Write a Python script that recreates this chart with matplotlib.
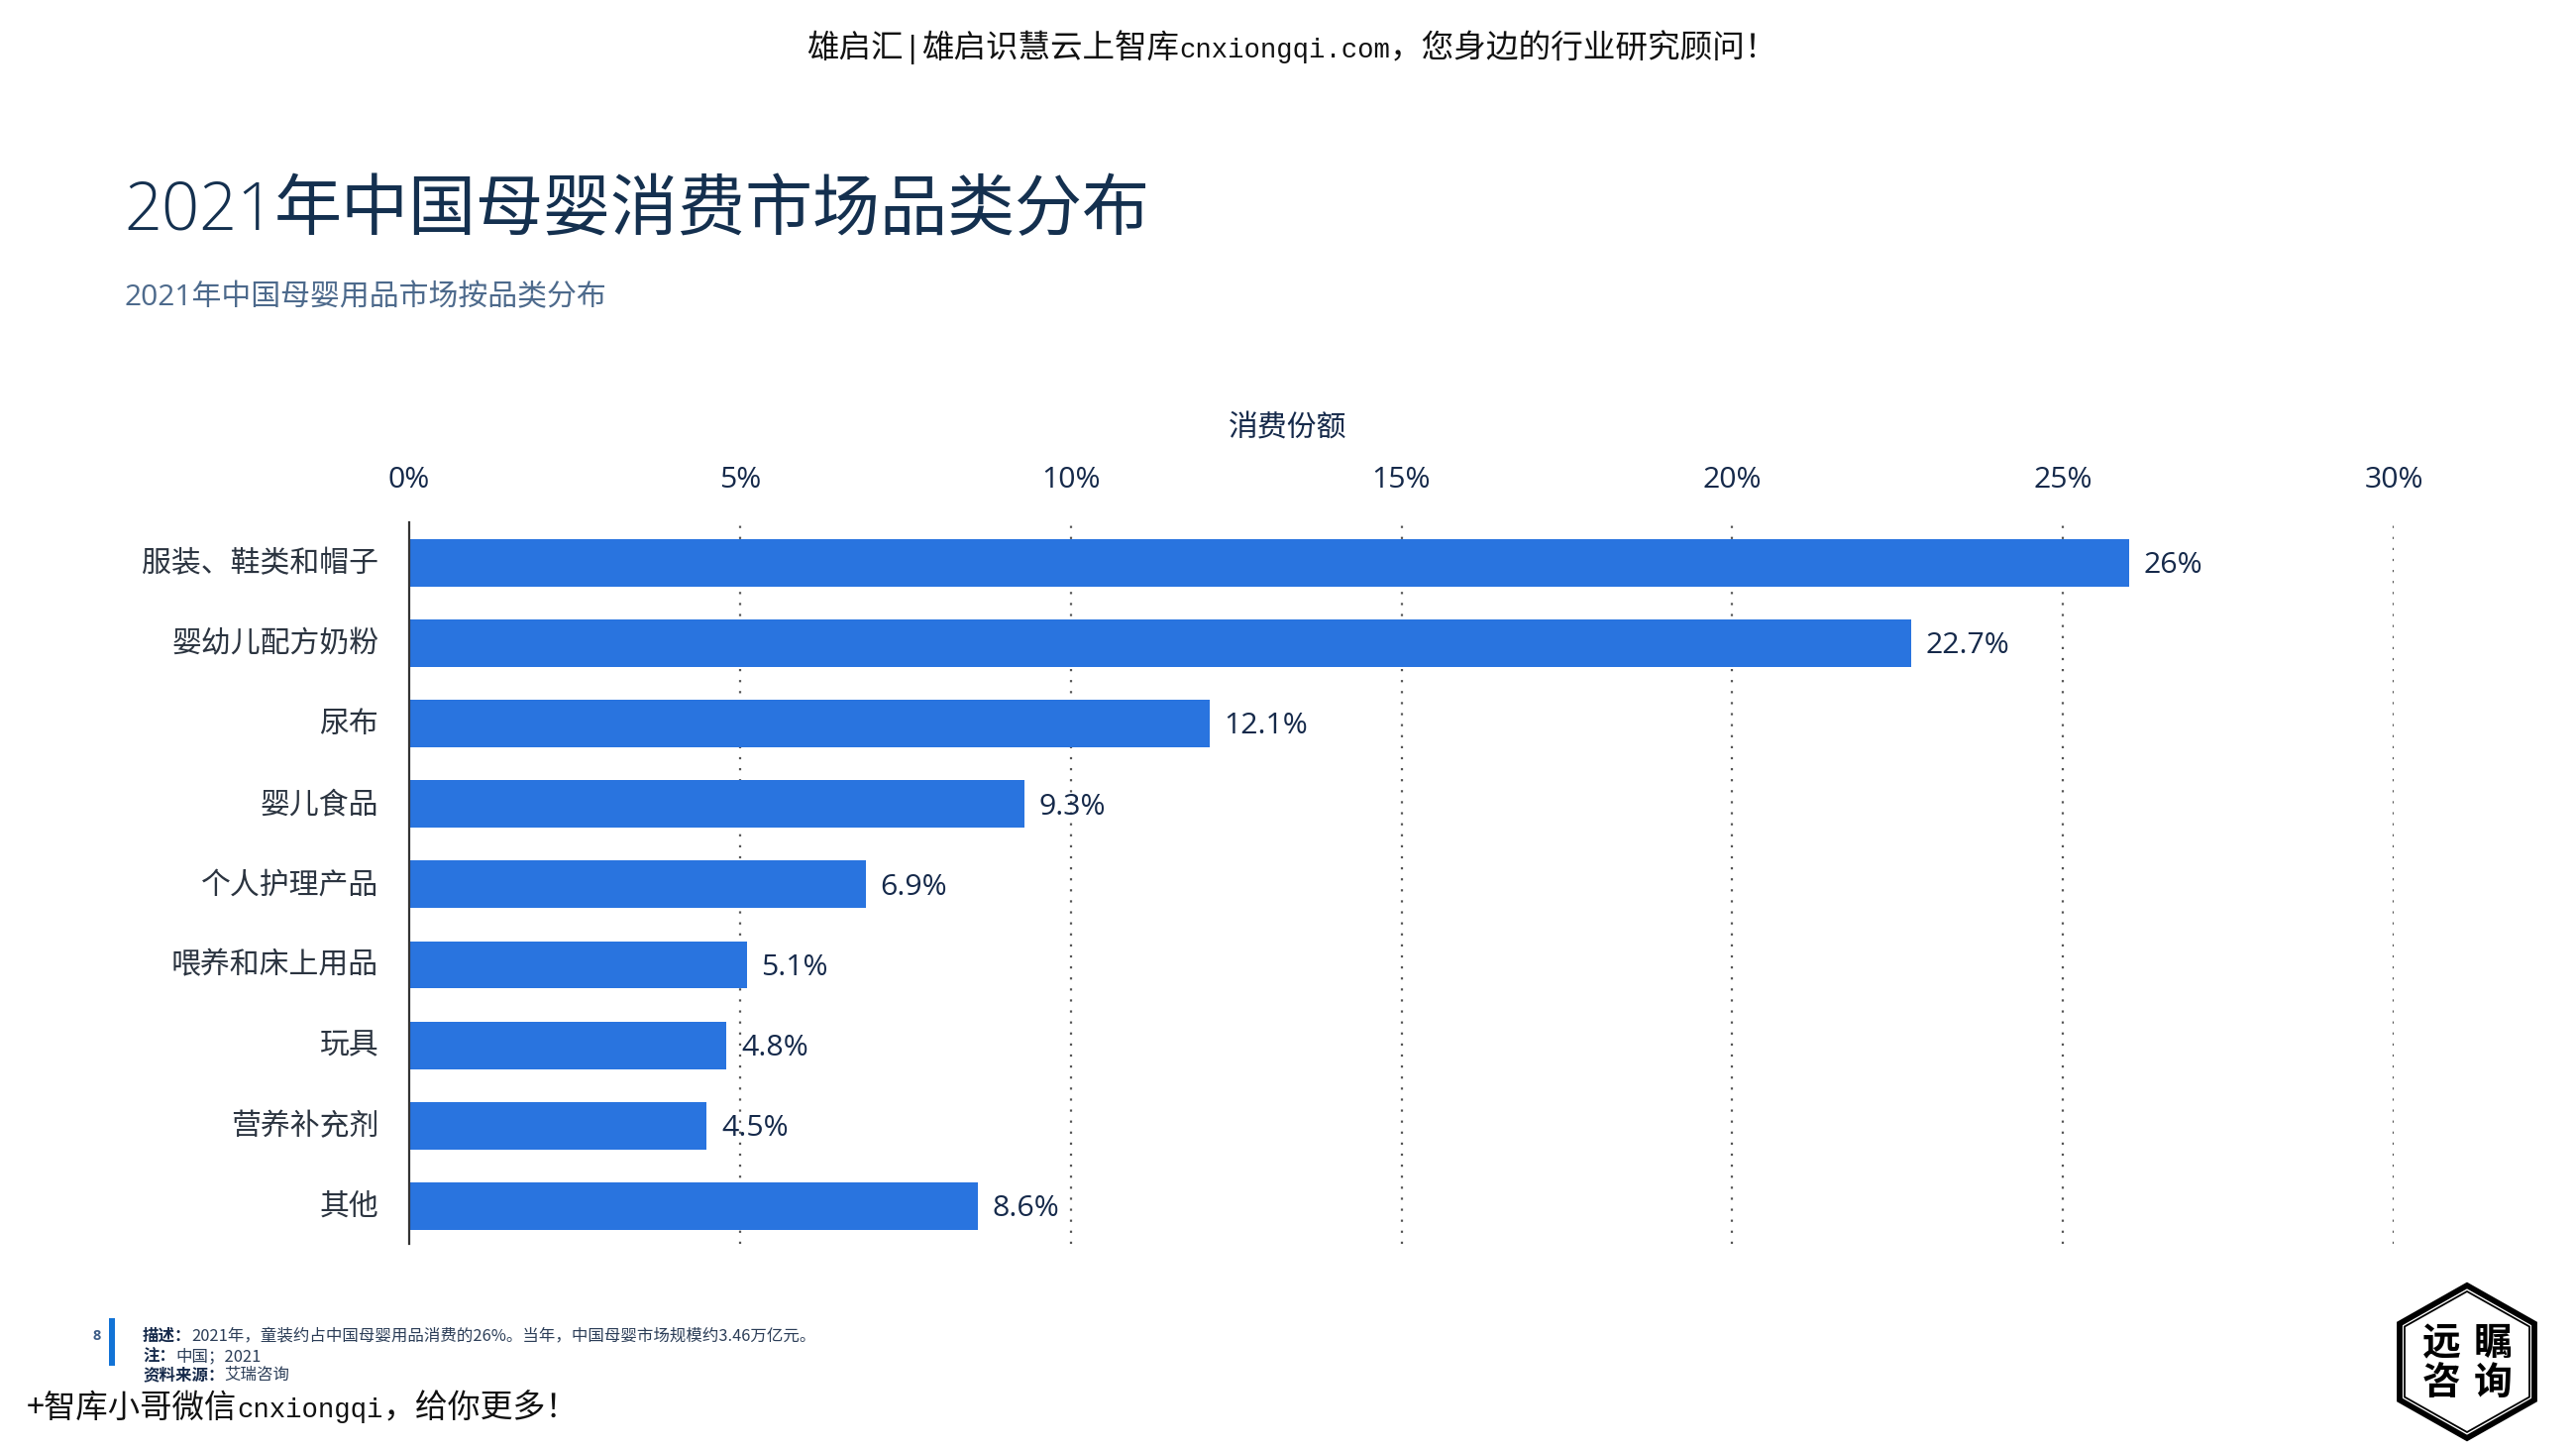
import matplotlib
matplotlib.use("Agg")
import matplotlib.pyplot as plt
from matplotlib.patches import Polygon, Rectangle
from matplotlib.transforms import ScaledTranslation

W, H = 2600, 1462
categories = ["服装、鞋类和帽子", "婴幼儿配方奶粉", "尿布", "婴儿食品", "个人护理产品",
              "喂养和床上用品", "玩具", "营养补充剂", "其他"]
shares = [26, 22.7, 12.1, 9.3, 6.9, 5.1, 4.8, 4.5, 8.6]
share_labels = ["26%", "22.7%", "12.1%", "9.3%", "6.9%", "5.1%", "4.8%", "4.5%", "8.6%"]
x_ticks = [0, 5, 10, 15, 20, 25, 30]
x_tick_labels = ["0%", "5%", "10%", "15%", "20%", "25%", "30%"]
x_title = "消费份额"
title_year = "2021"
title_rest = "年中国母婴消费市场品类分布"
subtitle = "2021年中国母婴用品市场按品类分布"
footer_lines = [("描述：", "2021年，童装约占中国母婴用品消费的26%。当年，中国母婴市场规模约3.46万亿元。"),
                ("注：", "中国；2021"),
                ("资料来源：", "艾瑞咨询")]

CJK = "Noto Sans CJK SC"
LAT = "Open Sans"
DARK = "#15294a"
BLUE = "#2974df"

plt.rcParams["font.family"] = [LAT, CJK, "DejaVu Sans"]
fig = plt.figure(figsize=(26, 14.62), dpi=100, facecolor="white")

def fx(px): return px / W
def fy(py): return 1 - py / H

L, R, T, B = 413, 2416, 527, 1255
ax = fig.add_axes([fx(L), fy(B), (R - L) / W, (B - T) / H])
ypos = list(range(len(categories)))
ax.set_xlim(0, 30)
ax.set_ylim(8.47, -0.505)
ax.barh(ypos, shares, height=0.59, color=BLUE, zorder=3)
for y, v, lab in zip(ypos, shares, share_labels):
    ax.annotate(lab, (v, y), xytext=(10.5, -2), textcoords="offset points", va="center", ha="left",
                fontsize=21.8, color=DARK, family=[LAT, CJK], zorder=4)
for s in ["top", "right", "bottom"]:
    ax.spines[s].set_visible(False)
ax.spines["left"].set_color("#333333")
ax.spines["left"].set_linewidth(1.6)
ax.spines["left"].set_zorder(5)
ax.xaxis.set_ticks_position("top")
ax.xaxis.set_label_position("top")
ax.set_xticks(x_ticks)
ax.set_xticklabels(x_tick_labels, fontsize=21.8, color=DARK, family=[LAT, CJK])
ax.tick_params(axis="x", length=0, pad=20.5)
ax.set_yticks(ypos)
ax.set_yticklabels(categories, fontsize=21.5, color="#2b3440", family=[CJK], fontweight="light")
ax.tick_params(axis="y", length=0, pad=22.2)
up = ScaledTranslation(0, 3 / 100, fig.dpi_scale_trans)
for t in ax.get_yticklabels():
    t.set_transform(t.get_transform() + up)
ax.grid(axis="x", color="#555555", linestyle=(0, (1, 4)), linewidth=1.6, zorder=1)
ax.set_axisbelow(True)
ax.xaxis.get_gridlines()[0].set_visible(False)
ax.set_xlabel(x_title, fontsize=21.5, color=DARK, family=[CJK], x=(1300 - L) / (R - L), labelpad=21.5)

def runs(x, y_px, pieces):
    """Place text pieces one after another on a common baseline."""
    r = fig.canvas.get_renderer()
    cur = x
    for s, kw in pieces:
        t = fig.text(fx(cur), fy(y_px), s, va="baseline", ha="left", **kw)
        cur = t.get_window_extent(r).x1

runs(125, 232, [(title_year, dict(family=[LAT], fontweight="light", fontsize=48, color="#14304f")),
                (title_rest, dict(family=[CJK], fontweight="medium", fontsize=49, color="#14304f"))])
fig.text(fx(126), fy(308), subtitle, family=[LAT, CJK], fontsize=21.5, color="#4d6a8c", va="baseline", ha="left")

sans = dict(family=[CJK], color="#111111")
mono = dict(family=["Liberation Mono"], color="#111111")
runs(814, 58, [("雄启汇", dict(fontsize=23.4, **sans)),
               ("|", dict(fontsize=22, **mono)),
               ("雄启识慧云上智库", dict(fontsize=23.4, **sans)),
               ("cnxiongqi.com", dict(fontsize=19.6, **mono)),
               ("，您身边的行业研究顾问！", dict(fontsize=23.5, **sans))])
runs(27, 1430, [("+智库小哥微信", dict(fontsize=23.3, **sans)),
                ("cnxiongqi", dict(fontsize=19.7, **mono)),
                ("，给你更多！", dict(fontsize=23.7, **sans))])

fig.text(fx(98), fy(1348), "8", fontsize=10.5, family=[LAT], color="#3c5c86", ha="center", va="center", fontweight="bold")
fig.add_artist(Rectangle((fx(110), fy(1378)), 6 / W, 48 / H, transform=fig.transFigure, color="#1273d6", lw=0))
for (head, body), yy in zip(footer_lines, [1353, 1373, 1392]):
    runs(144, yy, [(head, dict(family=[CJK], fontweight="bold", fontsize=11.85, color=DARK)),
                   (body, dict(family=[CJK], fontsize=11.85, color="#2c3e58"))])

# logo
cx, cy = 2490, 1374
def hexagon(rx, ry, **kw):
    pts = [(cx, cy - ry), (cx + rx, cy - ry / 2), (cx + rx, cy + ry / 2),
           (cx, cy + ry), (cx - rx, cy + ry / 2), (cx - rx, cy - ry / 2)]
    fig.add_artist(Polygon([(fx(a), fy(b)) for a, b in pts], closed=True, fill=False,
                           transform=fig.transFigure, joinstyle="miter", **kw))
hexagon(68, 77, edgecolor="black", linewidth=4.2)
hexagon(63, 71, edgecolor="black", linewidth=1.3)
for ch, dx, dy in [("远", -26, -18.5), ("瞩", 26, -18.5), ("咨", -26, 21), ("询", 26, 21)]:
    fig.text(fx(cx + dx), fy(cy + dy), ch, family=[CJK], fontweight="bold", fontsize=28, color="black",
             ha="center", va="center")

fig.savefig("out.png", dpi=100, facecolor="white")
